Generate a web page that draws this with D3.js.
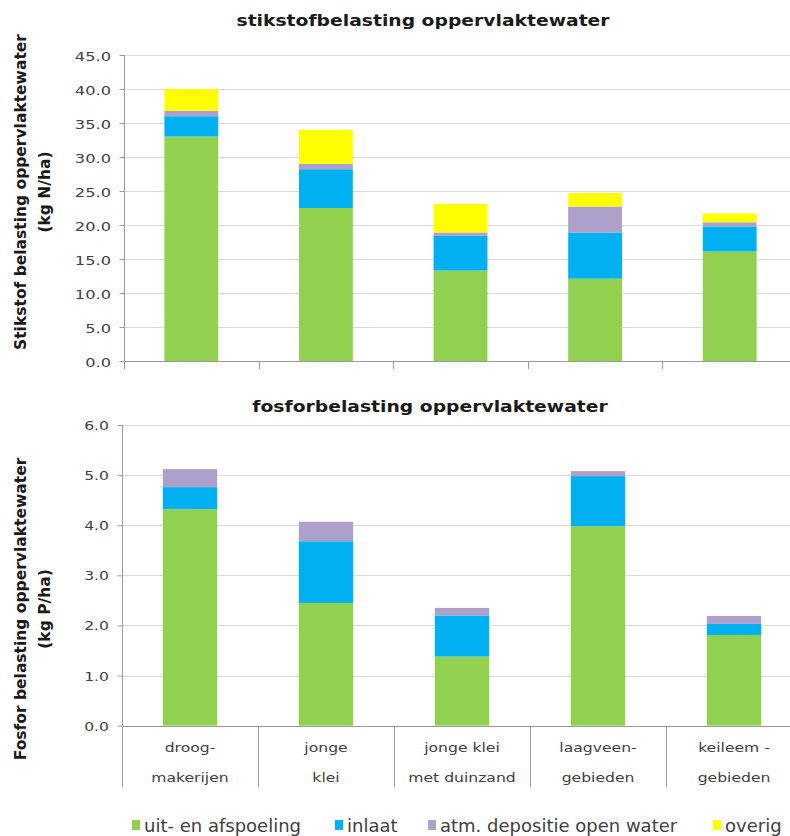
<!DOCTYPE html>
<html>
<head>
<meta charset="utf-8">
<script src="https://cdn.jsdelivr.net/npm/d3@7"></script>
<style>
  html, body { margin: 0; padding: 0; background: #fff; }
  svg { display: block; font-family: "DejaVu Sans", Verdana, sans-serif; }
</style>
</head>
<body>
<svg id="chart" width="790" height="836"></svg>
<script>
// Regions (shared categories of both panels)
const categories = ["droog-makerijen", "jonge klei", "jonge klei met duinzand", "laagveen-gebieden", "keileem-gebieden"];
const categoryLines = [
  ["droog-", "makerijen"],
  ["jonge", "klei"],
  ["jonge klei", "met duinzand"],
  ["laagveen-", "gebieden"],
  ["keileem -", "gebieden"]
];

// Sources (stack order, bottom to top)
const seriesNames = ["uit- en afspoeling", "inlaat", "atm. depositie open water", "overig"];
const seriesColors = ["#92d050", "#00b0f0", "#ada0cb", "#ffff00"];

// Nitrogen load, kg N/ha
const nUitAfspoeling = [33.0, 22.5, 13.3, 12.1, 16.1];
const nInlaat        = [3.0, 5.7, 5.1, 6.8, 3.7];
const nAtmDepositie  = [0.8, 0.8, 0.5, 3.8, 0.6];
const nOverig        = [3.2, 5.0, 4.2, 2.0, 1.3];

// Phosphorus load, kg P/ha
const pUitAfspoeling = [4.32, 2.45, 1.38, 3.98, 1.81];
const pInlaat        = [0.44, 1.23, 0.82, 1.00, 0.22];
const pAtmDepositie  = [0.36, 0.39, 0.15, 0.10, 0.16];
const pOverig        = [0, 0, 0, 0, 0];

// Axis ticks
const nTicks = [0, 5, 10, 15, 20, 25, 30, 35, 40, 45];
const pTicks = [0, 1, 2, 3, 4, 5, 6];

const svg = d3.select("#chart");
const TEXT_SX = 1.25; // horizontal widening of chart lettering
const tickColor = "#404040";
const gridColor = "#d9d9d9";
const axisColor = "#9a9a9a";

function rows(a, b, c, d) {
  return categories.map((cat, i) => ({ cat, s0: a[i], s1: b[i], s2: c[i], s3: d[i] }));
}

function widenedText(g, x, y, str, opts) {
  return g.append("text")
    .attr("transform", `translate(${x},${y}) scale(${TEXT_SX},1)`)
    .attr("text-anchor", opts.anchor || "middle")
    .attr("font-size", opts.size)
    .attr("font-weight", opts.weight || "normal")
    .attr("fill", opts.fill || tickColor)
    .text(str);
}

function panel(cfg) {
  const g = svg.append("g");
  const x = d3.scaleBand().domain(categories).range(cfg.xRange).paddingInner(0.6).paddingOuter(0.3);
  const y = d3.scaleLinear().domain(cfg.domain).range(cfg.yRange);
  const step = x.step();
  const left = cfg.xRange[0];

  // gridlines
  g.append("g").selectAll("line").data(cfg.ticks.filter(t => t > 0)).join("line")
    .attr("x1", left).attr("x2", 790)
    .attr("y1", d => Math.round(y(d)) + 0.5).attr("y2", d => Math.round(y(d)) + 0.5)
    .attr("stroke", gridColor).attr("stroke-width", 1);

  // stacked bars
  const stack = d3.stack().keys(["s0", "s1", "s2", "s3"]);
  const layers = stack(cfg.data);
  g.append("g").selectAll("g").data(layers).join("g")
    .attr("fill", (d, i) => seriesColors[i])
    .selectAll("rect").data(d => d.filter(v => v[1] - v[0] > 0)).join("rect")
    .attr("x", d => x(d.data.cat))
    .attr("width", x.bandwidth())
    .attr("y", d => y(d[1]))
    .attr("height", d => y(d[0]) - y(d[1]));

  // y axis line, ticks and labels
  const yAxis = d3.axisLeft(y).tickValues(cfg.ticks).tickSize(5).tickFormat("");
  const ya = g.append("g").attr("transform", `translate(${left + 0.5},0)`).call(yAxis);
  ya.select(".domain").attr("stroke", axisColor)
    .attr("d", `M0,${y(cfg.domain[1])}V${cfg.axisBottom}`);
  ya.selectAll(".tick line").attr("stroke", axisColor);
  cfg.ticks.forEach(t => {
    widenedText(g, left - 13, y(t) + cfg.tickDy, d3.format(".1f")(t), { anchor: "end", size: cfg.tickSize });
  });

  // x baseline
  g.append("line")
    .attr("x1", left).attr("x2", 790)
    .attr("y1", Math.round(y(0)) + 0.5).attr("y2", Math.round(y(0)) + 0.5)
    .attr("stroke", axisColor);

  // category separators
  g.append("g").selectAll("line").data(categories).join("line")
    .attr("x1", d => Math.round(x(d) - x.step() * 0.3 + step) + 0.5)
    .attr("x2", d => Math.round(x(d) - x.step() * 0.3 + step) + 0.5)
    .attr("y1", y(0)).attr("y2", cfg.axisBottom)
    .attr("stroke", axisColor);

  // title
  widenedText(g, cfg.titleX, cfg.titleY, cfg.title, { size: 15, weight: "bold", fill: "#1a1a1a" });

  // y axis title (two lines, rotated)
  const yt = g.append("text")
    .attr("transform", `translate(26,${cfg.yTitleCenter}) rotate(-90)`)
    .attr("text-anchor", "middle")
    .attr("font-size", 15.5).attr("font-weight", "bold").attr("fill", "#1a1a1a");
  yt.append("tspan").attr("x", 0).attr("y", 0).text(cfg.yTitle[0]);
  yt.append("tspan").attr("x", 0).attr("y", 24).text(cfg.yTitle[1]);

  return { g, x, y };
}

// Nitrogen panel
panel({
  data: rows(nUitAfspoeling, nInlaat, nAtmDepositie, nOverig),
  domain: [0, 45], ticks: nTicks,
  xRange: [124, 124 + 5 * 134.6], yRange: [361, 55],
  axisBottom: 369, tickSize: 13, tickDy: 6,
  title: "stikstofbelasting oppervlaktewater", titleX: 423, titleY: 26,
  yTitle: ["Stikstof belasting oppervlaktewater", "(kg N/ha)"], yTitleCenter: 192
});

// Phosphorus panel
const pPanel = panel({
  data: rows(pUitAfspoeling, pInlaat, pAtmDepositie, pOverig),
  domain: [0, 6], ticks: pTicks,
  xRange: [122, 122 + 5 * 136], yRange: [725.7, 425],
  axisBottom: 787, tickSize: 12.5, tickDy: 5,
  title: "fosforbelasting oppervlaktewater", titleX: 430, titleY: 412,
  yTitle: ["Fosfor belasting oppervlaktewater", "(kg P/ha)"], yTitleCenter: 609
});

// category labels under the phosphorus panel
categoryLines.forEach((lines, i) => {
  const cx = pPanel.x(categories[i]) + pPanel.x.bandwidth() / 2;
  widenedText(pPanel.g, cx, 752, lines[0], { size: 12.5 });
  widenedText(pPanel.g, cx, 782, lines[1], { size: 12.5 });
});

// legend
const legendX = [132, 335, 428, 713];
const legend = svg.append("g");
seriesNames.forEach((name, i) => {
  legend.append("rect").attr("x", legendX[i]).attr("y", 820).attr("width", 8).attr("height", 10)
    .attr("fill", seriesColors[i]);
  legend.append("text").attr("x", legendX[i] + 12).attr("y", 831.5)
    .attr("font-size", 18).attr("fill", "#404040").text(name);
});
</script>
</body>
</html>
